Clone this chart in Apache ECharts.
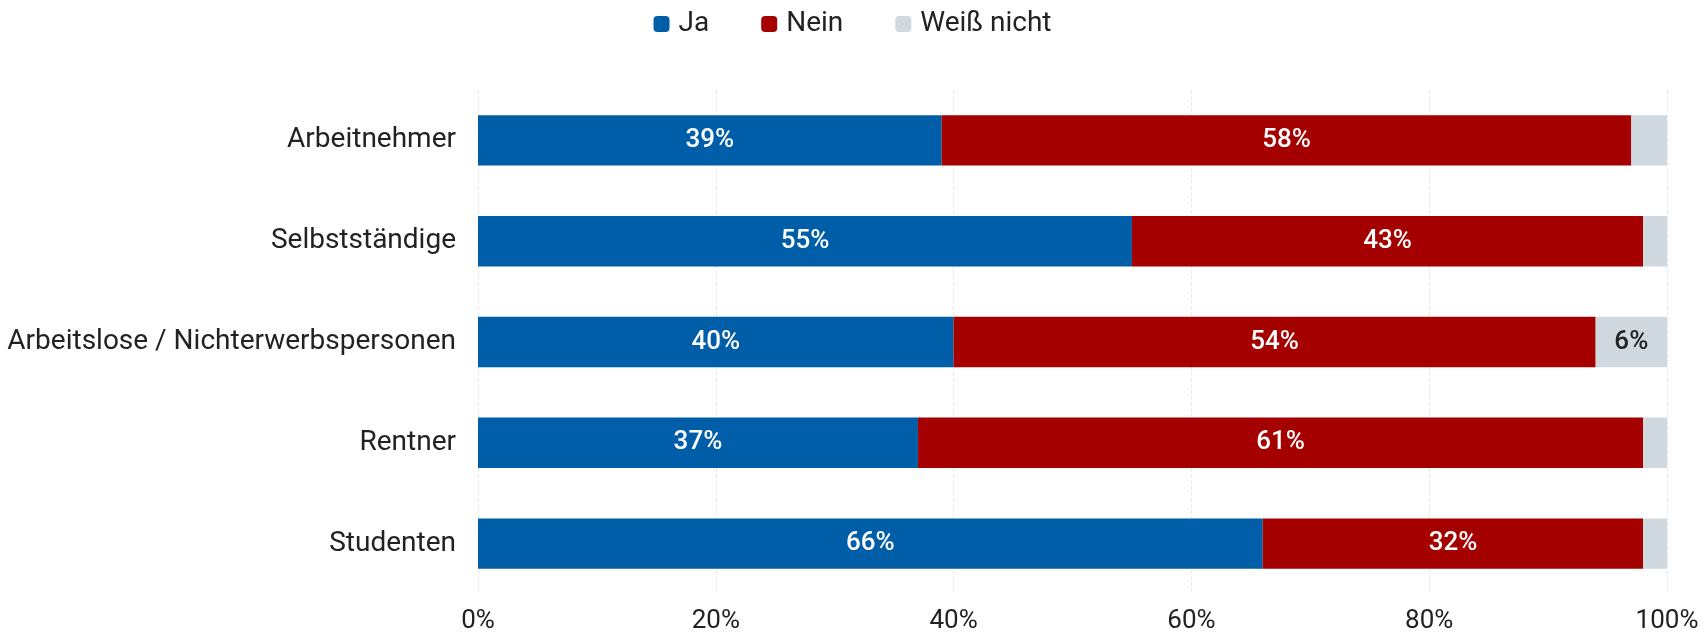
<!DOCTYPE html>
<html>
<head>
<meta charset="utf-8">
<script src="https://cdn.jsdelivr.net/npm/echarts@6/dist/echarts.min.js"></script>
<style>
  html, body { margin: 0; padding: 0; background: #fff; }
  #chart { width: 1705px; height: 634px; }
</style>
</head>
<body>
<div id="chart"></div>
<script>
// Daten
var categories = ['Arbeitnehmer', 'Selbstständige', 'Arbeitslose / Nichterwerbspersonen', 'Rentner', 'Studenten'];
var ja = [39, 55, 40, 37, 66];
var nein = [58, 43, 54, 61, 32];
var weissNicht = [3, 2, 6, 2, 2];
var seriesNames = ['Ja', 'Nein', 'Weiß nicht'];
var colors = ['#005ea8', '#a50000', '#d0d9e0'];

var chart = echarts.init(document.getElementById('chart'));

function makeSeries(name, data, color, labelColor) {
  return {
    name: name,
    type: 'bar',
    stack: 'total',
    barWidth: '50%',
    data: data,
    itemStyle: { color: color },
    label: {
      show: true,
      position: 'inside',
      color: labelColor,
      fontFamily: 'Roboto',
      fontWeight: 500,
      fontSize: 26,
      formatter: function (p) {
        // kleine Werte ohne Beschriftung
        return p.value >= 5 ? p.value + '%' : '';
      }
    }
  };
}

var option = {
  animation: false,
  textStyle: { fontFamily: 'Roboto' },
  legend: {
    top: 5,
    left: 'center',
    itemGap: 52,
    itemWidth: 16,
    itemHeight: 16,
    icon: 'roundRect',
    textStyle: { fontSize: 28, color: '#222', fontFamily: 'Roboto', padding: [0, 0, 0, 4] },
    data: seriesNames
  },
  grid: {
    left: 478,
    right: 38,
    top: 90,
    bottom: 38
  },
  xAxis: {
    type: 'value',
    min: 0,
    max: 100,
    interval: 20,
    axisLine: { show: false },
    axisTick: { show: false },
    axisLabel: {
      formatter: '{value}%',
      fontSize: 26,
      color: '#222',
      margin: 14
    },
    splitLine: { lineStyle: { color: '#e6e9ee', type: 'dashed', width: 1 } }
  },
  yAxis: {
    type: 'category',
    inverse: true,
    data: categories,
    axisLine: { show: false },
    axisTick: { show: false },
    axisLabel: { fontSize: 28, color: '#222', margin: 22 }
  },
  series: [
    makeSeries(seriesNames[0], ja, colors[0], '#fff'),
    makeSeries(seriesNames[1], nein, colors[1], '#fff'),
    makeSeries(seriesNames[2], weissNicht, colors[2], '#222')
  ]
};

chart.setOption(option);
</script>
</body>
</html>
